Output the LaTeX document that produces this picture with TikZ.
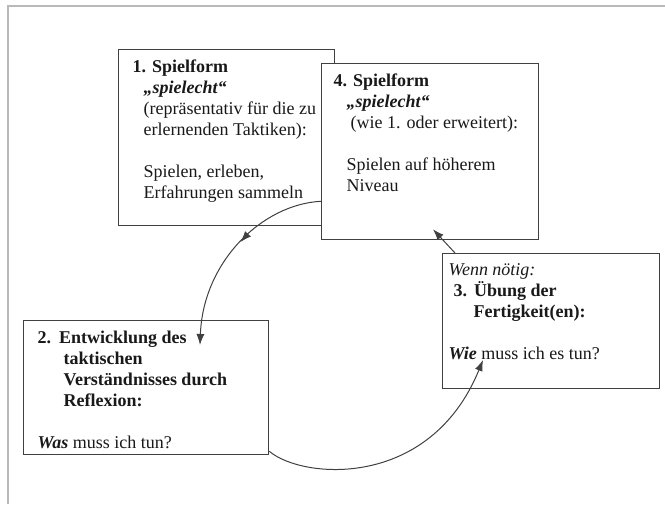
\documentclass[tikz,border=0pt]{standalone}
\usepackage{fontspec}
\setmainfont{Liberation Serif}
\usetikzlibrary{arrows.meta,decorations.markings}

\definecolor{linie}{gray}{0.25}
\definecolor{schrift}{gray}{0.1}

% Textblock oben links im Kasten
\newcommand{\inhalt}[3]{\parbox[t][#2][t]{#1}{\raggedright\vspace*{10pt}#3}}

\begin{document}
\begin{tikzpicture}[x=1pt, y=1pt,
    kasten/.style={draw=linie, line width=1.3pt, fill=white, anchor=north west, inner ysep=0pt, text=schrift, font=\fontsize{18}{21}\selectfont},
    pfeil/.style={draw=linie, line width=1pt, -{Latex[length=11pt,width=8pt]}},
    mitte/.style={postaction={decorate}, decoration={markings, mark=at position 0.45 with {\arrow{Latex[length=11pt,width=8pt]}}}}]

    \useasboundingbox (0,0) rectangle (665,-506);

    % Rahmen
    \draw[draw=gray!55, line width=1.2pt] (8,-504) -- (8,-6) -- (665,-6);

    % Kaesten
    \node (spiel1) [kasten, inner xsep=14pt] at (118,-49)
    {\inhalt{188pt}{176pt}{\textbf{1. Spielform}\\
      \hspace*{11pt}\textbf{\textit{„spielecht“}}\\
      \hspace*{11pt}(repräsentativ für die zu\\
      \hspace*{11pt}erlernenden Taktiken):\\[21pt]
      \hspace*{11pt}Spielen, erleben,\\
      \hspace*{11pt}Erfahrungen sammeln}};

    \node (spiel4) [kasten, inner xsep=12pt] at (321,-63)
    {\inhalt{193pt}{176pt}{\textbf{4. Spielform}\\
      \hspace*{13pt}\textbf{\textit{„spielecht“}}\\
      \hspace*{17pt}(wie 1. oder erweitert):\\[21pt]
      \hspace*{13pt}Spielen auf höherem\\
      \hspace*{13pt}Niveau}};

    \node (uebung) [kasten, inner xsep=6pt] at (442,-253)
    {\inhalt{205pt}{135pt}{\textit{Wenn nötig:}\\
      \hspace*{5pt}\textbf{3.\hspace{7pt}Übung der}\\
      \hspace*{25pt}\textbf{Fertigkeit(en):}\\[21pt]
      \textbf{\textit{Wie}} muss ich es tun?}};

    \node (entwicklung) [kasten, inner xsep=14pt] at (23,-320)
    {\inhalt{217pt}{134pt}{\textbf{2.\hspace{8pt}Entwicklung des}\\
      \hspace*{26pt}\textbf{taktischen}\\
      \hspace*{26pt}\textbf{Verständnisses durch}\\
      \hspace*{26pt}\textbf{Reflexion:}\\[21pt]
      \textbf{\textit{Was}} muss ich tun?}};

    % Pfeile
    \draw[pfeil, mitte] ([yshift=39pt]spiel4.south west) .. controls +(-59,-3) and +(3,83) .. ([shift={(177pt,-25pt)}]entwicklung.north west);
    \draw[pfeil] ([yshift=4pt]entwicklung.south east) .. controls +(33,-28) and +(-53,-130) .. ([shift={(41pt,-107pt)}]uebung.north west);
    \draw[pfeil] ([xshift=13pt]uebung.north west) -- ([shift={(112pt,11pt)}]spiel4.south west);
\end{tikzpicture}
\end{document}
